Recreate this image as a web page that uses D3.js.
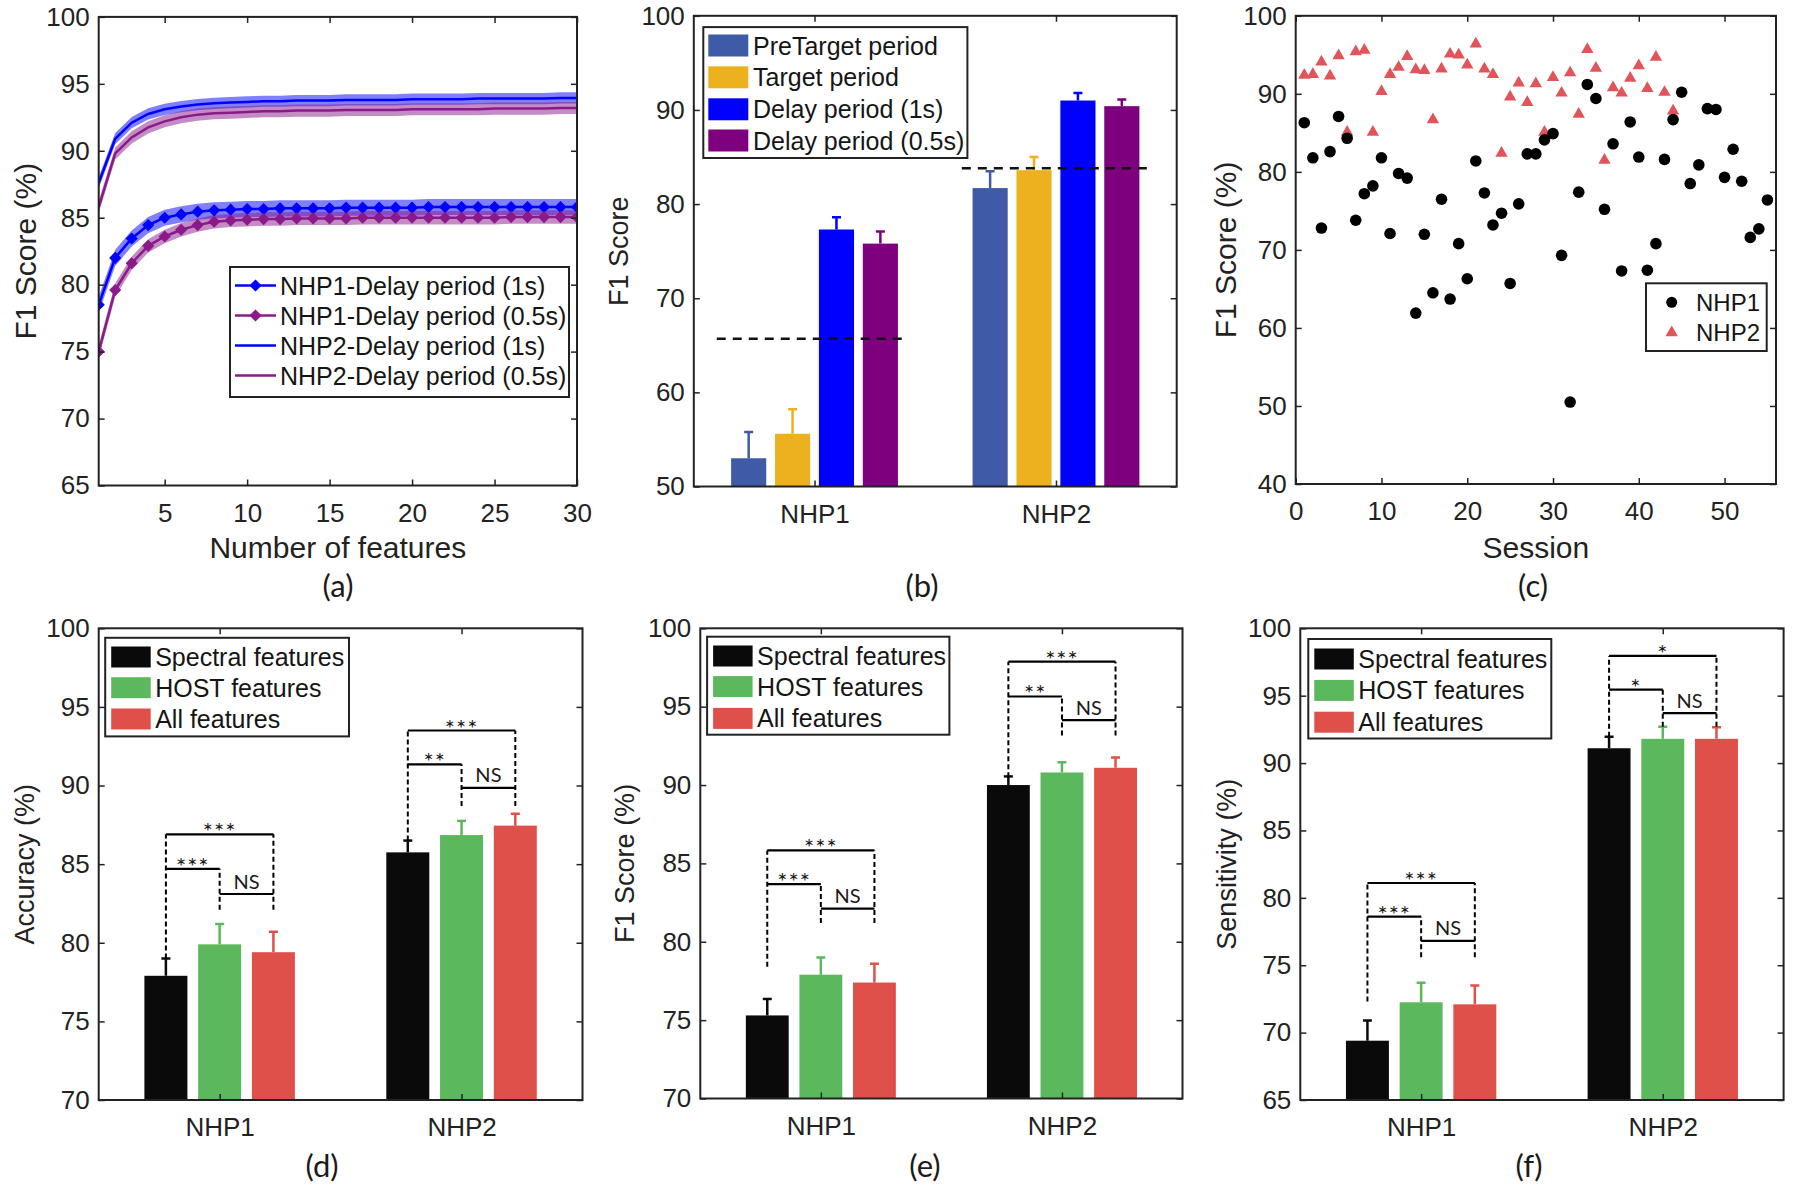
<!DOCTYPE html>
<html><head><meta charset="utf-8">
<script src="https://cdn.jsdelivr.net/npm/d3@7"></script>
<style>
body{margin:0;background:#fff;}
</style></head><body>
<script>
// ---------------- DATA ----------------
// (a) F1 vs number of features
const featureNums = [1,2,3,4,5,6,7,8,9,10,11,12,13,14,15,16,17,18,19,20,21,22,23,24,25,26,27,28,29,30];
const nhp1Delay1s  = [78.5,82.0,83.45,84.45,85.0,85.25,85.45,85.55,85.6,85.65,85.65,85.7,85.7,85.7,85.7,85.75,85.75,85.75,85.75,85.75,85.8,85.8,85.8,85.8,85.8,85.8,85.8,85.8,85.8,85.8];
const nhp1Delay05s = [75.0,79.6,81.6,82.9,83.6,84.1,84.45,84.7,84.8,84.85,84.9,84.9,84.95,84.95,84.95,84.95,85.0,85.0,85.0,85.0,85.0,85.0,85.0,85.0,85.0,85.05,85.05,85.05,85.05,85.05];
const nhp2Delay1s  = [87.6,90.9,92.1,92.75,93.1,93.3,93.45,93.55,93.6,93.65,93.7,93.7,93.75,93.75,93.75,93.8,93.8,93.8,93.8,93.85,93.85,93.85,93.85,93.9,93.9,93.9,93.9,93.9,93.95,93.95];
const nhp2Delay05s = [85.8,89.8,91.0,91.75,92.2,92.5,92.7,92.8,92.85,92.9,92.95,92.95,93.0,93.0,93.0,93.05,93.05,93.05,93.05,93.1,93.1,93.1,93.1,93.1,93.15,93.15,93.15,93.15,93.2,93.2];
const aSeriesNames = ["NHP1-Delay period (1s)","NHP1-Delay period (0.5s)","NHP2-Delay period (1s)","NHP2-Delay period (0.5s)"];
const aBandHalf = [0.6,0.5,0.42,0.45];
const aXTicks = [5,10,15,20,25,30];
const aYTicks = [65,70,75,80,85,90,95,100];

// (b) F1 by period
const groups = ["NHP1","NHP2"];
const bSeriesNames = ["PreTarget period","Target period","Delay period (1s)","Delay period (0.5s)"];
const bMeans = [[53.0,81.7],[55.6,83.6],[77.3,91.0],[75.8,90.4]];
const bErr   = [[2.8,1.8],[2.6,1.4],[1.3,0.8],[1.3,0.7]];
const bChance = [65.7,83.8];
const bChanceSpan = [[0.595,1.38],[1.61,2.385]];
const bYTicks = [50,60,70,80,90,100];

// (c) F1 per session
const nhp1Sessions = [1,2,3,4,5,6,7,8,9,10,11,12,13,14,15,16,17,18,19,20,21,22,23,24,25,26,27,28,29,30,31,32,33,34,35,36,37,38,39,40,41,42,43,44,45,46,47,48,49,50,51,52,53,54,55];
const nhp1Scores = [86.3,81.8,72.8,82.6,87.1,84.3,73.8,77.2,78.2,81.8,72.1,79.8,79.2,61.9,72.0,64.5,76.5,63.7,70.8,66.3,81.4,77.3,73.2,74.7,65.7,75.9,82.3,82.3,84.1,84.9,69.3,50.5,77.4,91.2,89.4,75.2,83.6,67.3,86.4,81.9,67.4,70.8,81.6,86.7,90.2,78.5,80.9,88.1,88.0,79.3,82.9,78.8,71.6,72.7,76.4];
const nhp2Sessions = [1,2,3,4,5,6,7,8,9,10,11,12,13,14,15,16,17,18,19,20,21,22,23,24,25,26,27,28,29,30,31,32,33,34,35,36,37,38,39,40,41,42,43,44];
const nhp2Scores = [92.4,92.5,94.1,92.3,94.9,85.1,95.4,95.6,85.1,90.3,92.5,93.4,94.8,93.1,93.0,86.7,93.2,95.1,95.0,93.7,96.4,93.2,92.5,82.4,89.6,91.4,88.9,91.3,85.1,92.1,90.1,92.7,87.4,95.7,93.3,81.5,90.8,90.1,92.0,93.6,90.7,94.7,90.2,87.8];
const cXTicks = [0,10,20,30,40,50];
const cYTicks = [40,50,60,70,80,90,100];

// (d)(e)(f) feature comparison
const featNames = ["Spectral features","HOST features","All features"];
const accMeans = [[77.9,85.75],[79.9,86.85],[79.4,87.45]];
const accErr   = [[1.1,0.75],[1.3,0.9],[1.3,0.75]];
const f1Means  = [[75.3,90.0],[77.9,90.8],[77.4,91.1]];
const f1Err    = [[1.05,0.55],[1.1,0.65],[1.2,0.65]];
const senMeans = [[69.4,91.1],[72.25,91.8],[72.1,91.8]];
const senErr   = [[1.5,0.85],[1.45,0.9],[1.4,0.85]];
const dYTicks = [70,75,80,85,90,95,100];
const fYTicks = [65,70,75,80,85,90,95,100];
// significance brackets: group, from bar, to bar, level, label
const accSig = [[0,0,2,86.9,"***"],[0,0,1,84.7,"***"],[0,1,2,83.1,"NS"],[1,0,2,93.5,"***"],[1,0,1,91.35,"**"],[1,1,2,89.85,"NS"]];
const accLinks = [[0,0,79.0,86.9],[0,1,82.1,84.7],[0,2,82.1,86.9],[1,0,86.5,93.5],[1,1,88.7,91.35],[1,2,88.7,93.5]];
const f1Sig = [[0,0,2,85.83,"***"],[0,0,1,83.68,"***"],[0,1,2,82.12,"NS"],[1,0,2,97.87,"***"],[1,0,1,95.65,"**"],[1,1,2,94.14,"NS"]];
const f1Links = [[0,0,78.4,85.83],[0,1,81.2,83.68],[0,2,81.2,85.83],[1,0,90.5,97.87],[1,1,93.16,95.65],[1,2,93.16,97.87]];
const senSig = [[0,0,2,81.1,"***"],[0,0,1,78.6,"***"],[0,1,2,76.8,"NS"],[1,0,2,97.95,"*"],[1,0,1,95.45,"*"],[1,1,2,93.7,"NS"]];
const senLinks = [[0,0,72.3,81.1],[0,1,75.6,78.6],[0,2,75.6,81.1],[1,0,91.96,97.95],[1,1,92.7,95.45],[1,2,92.7,97.95]];

// ---------------- STYLE ----------------
const FM = '"Liberation Sans", Arial, Helvetica, sans-serif';
const FC = 'Lato, "Open Sans", sans-serif';
const INK = "#222";
const aColors = ["#0000ff","#8a1a8a","#0000ff","#8a1a8a"];
const bColors = ["#3f5aa6","#edb120","#0000ff","#7e007e"];
const fColors = ["#0a0a0a","#5cb85c","#e0504a"];

const svg = d3.select("body").append("svg").attr("width",1800).attr("height",1191)
  .style("font-family",FM);

const BOX = {
  a:{x0:98.7,x1:577,y0:16.9,y1:485.5},
  b:{x0:693.8,x1:1176.7,y0:15.8,y1:486.5},
  c:{x0:1295.7,x1:1776,y0:15.8,y1:484},
  d:{x0:98.7,x1:582.5,y0:628.3,y1:1100},
  e:{x0:700.3,x1:1182.5,y0:628.3,y1:1098.5},
  f:{x0:1300.3,x1:1783.6,y0:628.3,y1:1100}
};

function frame(box, x, y, xt, yt, xf){
  const g = svg.append("g");
  const mk = (axis, tx, ty, labels) => {
    const a = g.append("g").attr("transform",`translate(${tx},${ty})`).call(axis);
    a.select(".domain").remove();
    a.selectAll("line").attr("stroke",INK).attr("stroke-width",1.5);
    a.selectAll("text").style("font-size","26px").style("font-family",FM).style("fill",INK);
    if(!labels) a.selectAll("text").remove();
  };
  mk(d3.axisLeft(y).tickValues(yt).tickSize(-6).tickPadding(9).tickFormat(d3.format("d")), box.x0, 0, true);
  mk(d3.axisRight(y).tickValues(yt).tickSize(-6), box.x1, 0, false);
  mk(d3.axisBottom(x).tickValues(xt).tickSize(-6).tickPadding(18).tickFormat(xf||d3.format("d")), 0, box.y1, true);
  mk(d3.axisTop(x).tickValues(xt).tickSize(-6), 0, box.y0, false);
  g.append("rect").attr("x",box.x0).attr("y",box.y0).attr("width",box.x1-box.x0).attr("height",box.y1-box.y0)
    .attr("fill","none").attr("stroke",INK).attr("stroke-width",2);
}
function ylabel(text, cx, box, size){
  const cy=(box.y0+box.y1)/2;
  svg.append("text").attr("transform",`translate(${cx},${cy}) rotate(-90)`).attr("text-anchor","middle")
    .attr("dy","0.35em").style("font-size",size+"px").style("font-family",FM).style("fill",INK).text(text);
}
function xlabel(text, box, yb){
  svg.append("text").attr("x",(box.x0+box.x1)/2).attr("y",yb).attr("text-anchor","middle")
    .style("font-size","30px").style("font-family",FM).style("fill",INK).text(text);
}
function panelLabel(text, cx, yb){
  svg.append("text").attr("x",cx).attr("y",yb).attr("text-anchor","middle")
    .style("font-size","31px").style("font-family",FC).style("fill","#1a1a1a").text(text);
}
function legendBox(x0,y0,x1,y1){
  svg.append("rect").attr("x",x0).attr("y",y0).attr("width",x1-x0).attr("height",y1-y0)
    .attr("fill","#fff").attr("stroke",INK).attr("stroke-width",2);
}
function legendText(x, cy, t, size){
  svg.append("text").attr("x",x).attr("y",cy+ (size||25)*0.36).style("font-size",(size||25)+"px")
    .style("font-family",FM).style("fill","#151515").text(t);
}
function clip(id, box){
  svg.append("clipPath").attr("id",id).append("rect").attr("x",box.x0).attr("y",box.y0)
    .attr("width",box.x1-box.x0).attr("height",box.y1-box.y0);
}

// ---------------- (a) ----------------
(function(){
  const B=BOX.a;
  const x=d3.scaleLinear().domain([1,30]).range([B.x0,B.x1]);
  const y=d3.scaleLinear().domain([65,100]).range([B.y1,B.y0]);
  clip("clipA",B);
  const g=svg.append("g").attr("clip-path","url(#clipA)");
  const series=[nhp2Delay1s,nhp2Delay05s,nhp1Delay1s,nhp1Delay05s];
  const idx=[2,3,0,1];
  series.forEach((vals,k)=>{
    const i=idx[k];
    const area=d3.area().x((d,j)=>x(featureNums[j])).y0(d=>y(d-aBandHalf[i])).y1(d=>y(d+aBandHalf[i]));
    g.append("path").attr("d",area(vals)).attr("fill",aColors[i]).attr("fill-opacity",0.5);
  });
  series.forEach((vals,k)=>{
    const i=idx[k];
    const line=d3.line().x((d,j)=>x(featureNums[j])).y(d=>y(d));
    g.append("path").attr("d",line(vals)).attr("fill","none").attr("stroke",aColors[i]).attr("stroke-width",2.5);
  });
  const sq=d3.symbol().type(d3.symbolSquare).size(58);
  [nhp1Delay1s,nhp1Delay05s].forEach((vals,i)=>{
    g.selectAll(null).data(vals).enter().append("path").attr("d",sq)
      .attr("transform",(d,j)=>`translate(${x(featureNums[j])},${y(d)}) rotate(45)`)
      .attr("fill",aColors[i]).attr("stroke",aColors[i]).attr("stroke-width",1);
  });
  frame(B,x,y,aXTicks,aYTicks);
  ylabel("F1 Score (%)",25,B,30);
  xlabel("Number of features",B,558);
  panelLabel("(a)",338,597);
  // legend
  legendBox(230,267,569,397);
  const rows=[285.5,315.5,345.5,375.5];
  aSeriesNames.forEach((n,i)=>{
    svg.append("line").attr("x1",235).attr("x2",276).attr("y1",rows[i]).attr("y2",rows[i])
      .attr("stroke",aColors[i]).attr("stroke-width",2.5);
    if(i<2){
      svg.append("path").attr("d",sq).attr("transform",`translate(255.5,${rows[i]}) rotate(45)`)
        .attr("fill",aColors[i]).attr("stroke",aColors[i]);
    }
    legendText(280,rows[i],n,25);
  });
})();

// ---------------- grouped bar helper ----------------
function barPanel(B, means, err, colors, yDomain, yTicks, clipId){
  const x=d3.scaleLinear().domain([0.5,2.5]).range([B.x0,B.x1]);
  const y=d3.scaleLinear().domain(yDomain).range([B.y1,B.y0]);
  const k=means.length;
  const gw=Math.min(0.8,k/(k+1.5)), sp=gw/k, bw=0.8*sp;
  const cx=(gi,s)=>x(gi+1+(s-(k-1)/2)*sp);
  clip(clipId,B);
  const g=svg.append("g").attr("clip-path",`url(#${clipId})`);
  means.forEach((row,s)=>{
    row.forEach((v,gi)=>{
      const c=cx(gi,s), w=x(bw)-x(0);
      g.append("rect").attr("x",c-w/2).attr("y",y(v)).attr("width",w).attr("height",y(yDomain[0])-y(v))
        .attr("fill",colors[s]);
      const top=y(v+err[s][gi]);
      g.append("line").attr("x1",c).attr("x2",c).attr("y1",y(v)).attr("y2",top).attr("stroke",colors[s]).attr("stroke-width",2.5);
      g.append("line").attr("x1",c-4.5).attr("x2",c+4.5).attr("y1",top).attr("y2",top).attr("stroke",colors[s]).attr("stroke-width",2.5);
    });
  });
  return {x,y,cx};
}
function sigMarks(P, sig, links){
  links.forEach(([gi,s,v0,v1])=>{
    svg.append("line").attr("x1",P.cx(gi,s)).attr("x2",P.cx(gi,s)).attr("y1",P.y(v0)).attr("y2",P.y(v1))
      .attr("stroke","#000").attr("stroke-width",2).attr("stroke-dasharray","5,3");
  });
  sig.forEach(([gi,a,b,v,lab])=>{
    const xa=P.cx(gi,a), xb=P.cx(gi,b), yy=P.y(v);
    svg.append("line").attr("x1",xa).attr("x2",xb).attr("y1",yy).attr("y2",yy).attr("stroke","#000").attr("stroke-width",2.2);
    const t=svg.append("text").attr("x",(xa+xb)/2).attr("text-anchor","middle").style("font-family",FC).style("fill","#1a1a1a");
    if(lab==="NS") t.attr("y",yy-5.5).style("font-size","20px").text(lab);
    else t.attr("y",yy+6).style("font-size","24px").style("letter-spacing","1px").text(lab);
  });
}
const catFmt=d=>groups[d-1];

// ---------------- (b) ----------------
(function(){
  const B=BOX.b;
  const P=barPanel(B,bMeans,bErr,bColors,[50,100],bYTicks,"clipB");
  bChance.forEach((v,i)=>{
    svg.append("line").attr("x1",P.x(bChanceSpan[i][0])).attr("x2",P.x(bChanceSpan[i][1]))
      .attr("y1",P.y(v)).attr("y2",P.y(v)).attr("stroke","#111").attr("stroke-width",2.5).attr("stroke-dasharray","9,7");
  });
  frame(B,P.x,P.y,[1,2],bYTicks,catFmt);
  ylabel("F1 Score",619,B,27);
  panelLabel("(b)",922,597);
  legendBox(703.3,27.1,967.4,158);
  const rows=[45.5,77.3,109.3,140.5];
  bSeriesNames.forEach((n,i)=>{
    svg.append("rect").attr("x",708.3).attr("y",rows[i]-11).attr("width",40).attr("height",22).attr("fill",bColors[i]);
    legendText(753,rows[i],n,25);
  });
})();

// ---------------- (c) ----------------
(function(){
  const B=BOX.c;
  const x=d3.scaleLinear().domain([0,56]).range([B.x0,B.x1]);
  const y=d3.scaleLinear().domain([40,100]).range([B.y1,B.y0]);
  const tri=d3.symbol().type(d3.symbolTriangle).size(66);
  svg.append("g").selectAll("path").data(nhp2Scores).enter().append("path").attr("d",tri)
    .attr("transform",(d,i)=>`translate(${x(nhp2Sessions[i])},${y(d)})`).attr("fill","#e0545a");
  svg.append("g").selectAll("circle").data(nhp1Scores).enter().append("circle")
    .attr("cx",(d,i)=>x(nhp1Sessions[i])).attr("cy",d=>y(d)).attr("r",5.8).attr("fill","#000");
  frame(B,x,y,cXTicks,cYTicks);
  ylabel("F1 Score (%)",1225,B,30);
  xlabel("Session",B,558);
  panelLabel("(c)",1533,597);
  legendBox(1646,283.3,1766.7,351);
  svg.append("circle").attr("cx",1671.7).attr("cy",302.3).attr("r",5.5).attr("fill","#000");
  svg.append("path").attr("d",tri).attr("transform","translate(1671.7,332.7)").attr("fill","#e0545a");
  legendText(1696,302.3,"NHP1",24);
  legendText(1696,332.7,"NHP2",24);
})();

// ---------------- (d)(e)(f) ----------------
function bottomPanel(key, means, err, yDomain, yTicks, yl, ylx, sig, links, lab, labx, leg){
  const B=BOX[key];
  const P=barPanel(B,means,err,fColors,yDomain,yTicks,"clip"+key);
  sigMarks(P,sig,links);
  frame(B,P.x,P.y,[1,2],yTicks,catFmt);
  ylabel(yl,ylx,B,27);
  panelLabel(lab,labx,1177);
  legendBox(leg[0],leg[1],leg[2],leg[3]);
  featNames.forEach((n,i)=>{
    const cy=leg[4][i];
    svg.append("rect").attr("x",leg[0]+6).attr("y",cy-10.5).attr("width",39.5).attr("height",21).attr("fill",fColors[i]);
    legendText(leg[0]+50,cy,n,25);
  });
}
bottomPanel("d",accMeans,accErr,[70,100],dYTicks,"Accuracy (%)",25,accSig,accLinks,"(d)",322,
  [105.2,637.8,349,736.4,[657,687.7,719]]);
bottomPanel("e",f1Means,f1Err,[70,100],dYTicks,"F1 Score (%)",625,f1Sig,f1Links,"(e)",925,
  [707.1,636.7,949.4,734.7,[656,686.6,718.4]]);
bottomPanel("f",senMeans,senErr,[65,100],fYTicks,"Sensitivity (%)",1227,senSig,senLinks,"(f)",1529,
  [1308.3,639,1551.3,738.5,[659,690.4,722.2]]);
</script>
</body></html>
